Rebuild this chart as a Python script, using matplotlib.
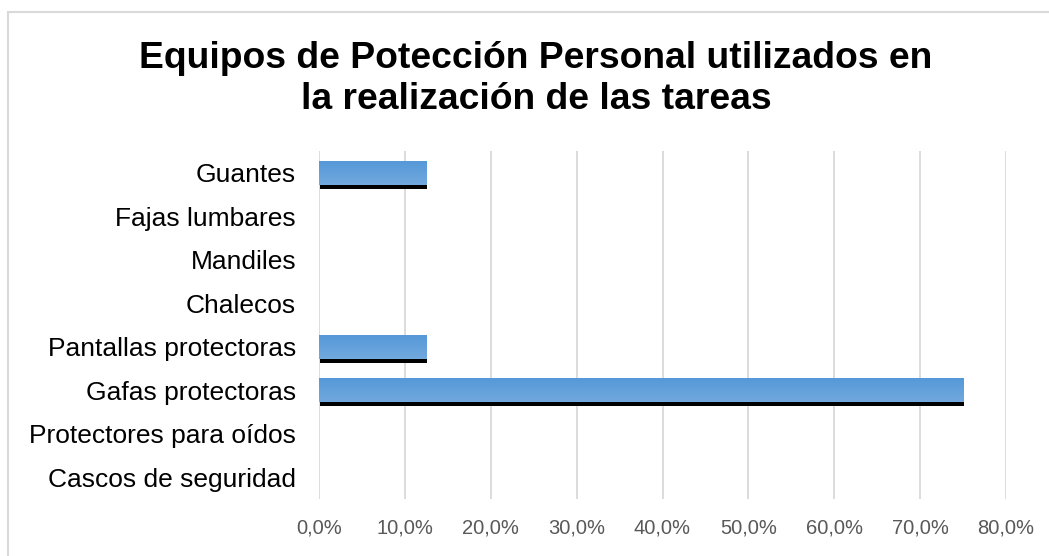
import matplotlib
matplotlib.use("Agg")
import matplotlib.pyplot as plt
import matplotlib.transforms as mtransforms
from matplotlib.patches import Rectangle
from matplotlib.ticker import FuncFormatter
from matplotlib.colors import LinearSegmentedColormap
import numpy as np

categories = ["Cascos de seguridad", "Protectores para oídos", "Gafas protectoras",
              "Pantallas protectoras", "Chalecos", "Mandiles", "Fajas lumbares", "Guantes"]
values = [0.0, 0.0, 75.0, 12.5, 0.0, 0.0, 0.0, 12.5]
xticks = [0, 10, 20, 30, 40, 50, 60, 70, 80]
title = "Equipos de Potección Personal utilizados en\nla realización de las tareas"

plt.rcParams['font.family'] = ['Liberation Sans', 'DejaVu Sans']

fig = plt.figure(figsize=(10.49, 5.56), dpi=100)
fig.patches.append(Rectangle((8/1049, -0.1), 1.2, (556-12)/556 + 0.1, transform=fig.transFigure,
                             fill=False, edgecolor='#d9d9d9', linewidth=1.5, zorder=0))
ax = fig.add_axes([319/1049, 1-499/556, (1006-319)/1049, (499-151)/556])

y = np.arange(len(categories))
h = 0.55
shadow = mtransforms.offset_copy(ax.transData, fig=fig, x=1.0, y=-4.0, units='dots')
ax.barh(y, values, height=h, color='black', transform=shadow, zorder=2)
bars = ax.barh(y, values, height=h, color='#5b9bd5', zorder=3)

grad = np.linspace(0, 1, 100).reshape(-1, 1)
cmap = LinearSegmentedColormap.from_list('g', ['#72a9de', '#5598d8'])
for b, v in zip(bars, values):
    if v <= 0:
        continue
    x0, y0 = b.get_x(), b.get_y()
    w, hh = b.get_width(), b.get_height()
    im = ax.imshow(grad, extent=[x0, x0 + w, y0 + hh, y0], aspect='auto', cmap=cmap,
                   origin='upper', zorder=4)
    im.set_clip_path(b)

ax.set_xlim(0, 80)
ax.set_ylim(-0.5, len(categories) - 0.5)
ax.set_xticks(xticks)
ax.xaxis.set_major_formatter(FuncFormatter(lambda v, p: f"{v:.1f}%".replace('.', ',')))
ax.set_yticks(y)
ax.set_yticklabels(categories, fontsize=19, color='black')
for lab in ax.get_xticklabels():
    lab.set_fontsize(14.5)
    lab.set_color('#595959')
ax.tick_params(axis='both', length=0)
ax.tick_params(axis='x', pad=14)
ax.tick_params(axis='y', pad=16.5)
ax.grid(axis='x', color='#d9d9d9', linewidth=1.3, zorder=0)
ax.set_axisbelow(True)
for s in ax.spines.values():
    s.set_visible(False)

fig.text(536/1049, 1-79/556, title, ha='center', va='center', fontsize=26.8, fontweight='bold',
         linespacing=1.2)

fig.savefig('out.png', dpi=100)
